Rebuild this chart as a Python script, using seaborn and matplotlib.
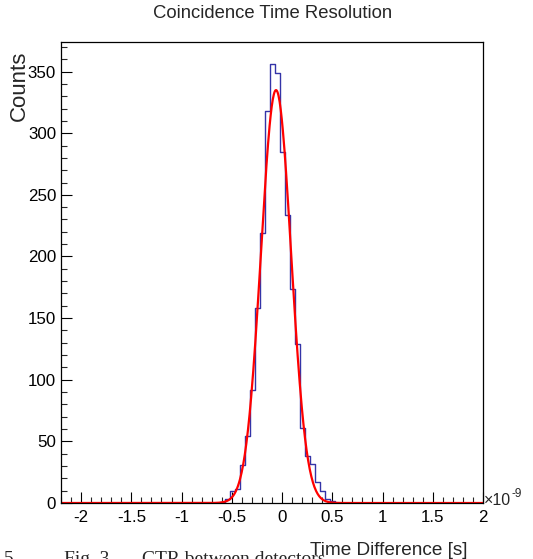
import numpy as np
import pandas as pd
import matplotlib
matplotlib.use("Agg")
import matplotlib.pyplot as plt
import seaborn as sns
from matplotlib.ticker import MultipleLocator, FuncFormatter

# histogram (time in units of 1e-9 s)
bin_width = 0.05
first_edge = -0.62
counts = [1, 3, 10, 11, 31, 54, 92, 158, 219, 318, 356, 349, 285,
          234, 174, 129, 61, 38, 32, 17, 10, 3, 2]

# gaussian fit parameters
fit_amp = 335.0
fit_mean = -0.06
fit_sigma = 0.15

x_range = (-2.2, 2.0)
y_max = 374
x_tick_values = [-2, -1.5, -1, -0.5, 0, 0.5, 1, 1.5, 2]
y_tick_values = [0, 50, 100, 150, 200, 250, 300, 350]

sns.set_theme(style="ticks")
plt.rcParams["font.family"] = ["Liberation Sans", "DejaVu Sans"]
plt.rcParams["axes.unicode_minus"] = False

centers = first_edge + bin_width * (np.arange(len(counts)) + 0.5)
hist_df = pd.DataFrame({"t": centers, "n": counts})

# bins spanning the whole axis so empty bins sit on the baseline
n_left = int(round((first_edge - x_range[0]) / bin_width)) + 1
start = first_edge - n_left * bin_width
edges = start + bin_width * np.arange(int((x_range[1] - start) / bin_width) + 2)

fig = plt.figure(figsize=(5.33, 5.59), dpi=100)
ax = fig.add_axes([61 / 533, 56 / 559, 422 / 533, 461 / 559])

sns.histplot(data=hist_df, x="t", weights="n", bins=[float(e) for e in edges],
             element="step", fill=False, color="#3434a8", linewidth=1.0, ax=ax)

t_fit = np.linspace(x_range[0], x_range[1], 800)
fit_df = pd.DataFrame({"t": t_fit,
                       "y": fit_amp * np.exp(-0.5 * ((t_fit - fit_mean) / fit_sigma) ** 2)})
sns.lineplot(data=fit_df, x="t", y="y", color="#ff0000", linewidth=1.6,
             estimator=None, ax=ax)


def tick_text(v, _):
    if abs(v) < 1e-9:
        return "0"
    return f"{v:g}"


ax.set_xlim(*x_range)
ax.set_ylim(0, y_max)
ax.set_xlabel("")
ax.set_ylabel("")
ax.set_xticks(x_tick_values)
ax.set_yticks(y_tick_values)
ax.xaxis.set_minor_locator(MultipleLocator(0.1))
ax.yaxis.set_minor_locator(MultipleLocator(10))
ax.xaxis.set_major_formatter(FuncFormatter(tick_text))
ax.tick_params(axis="both", which="major", direction="in", length=8, width=0.8,
               labelsize=12.2, colors="black")
ax.tick_params(axis="both", which="minor", direction="in", length=4.5, width=0.8)
ax.tick_params(axis="x", which="both", pad=5)
ax.tick_params(axis="y", which="both", pad=3.5)
for side in ax.spines.values():
    side.set_visible(True)
    side.set_color("black")
    side.set_linewidth(0.9)

fig.text(272.5 / 533, 1 - 13 / 559, "Coincidence Time Resolution",
         ha="center", va="center", fontsize=13.3)
fig.text(9 / 533, 1 - 51 / 559, "Counts", rotation=90,
         ha="left", va="top", fontsize=16)
fig.text(467 / 533, 4 / 559, "Time Difference [s]",
         ha="right", va="baseline", fontsize=13.7)
fig.text(484 / 533, (559 - 505) / 559, "×10",
         ha="left", va="baseline", fontsize=11.5)
fig.text(512 / 533, (559 - 497) / 559, "-9",
         ha="left", va="baseline", fontsize=8.5)

# caption of the paper, cut off by the crop
cap_y = -5 / 559
fig.text(4 / 533, cap_y, "5", ha="left", va="baseline", fontsize=14,
         family="Liberation Serif")
fig.text(64 / 533, cap_y, "Fig. 3", ha="left", va="baseline", fontsize=14,
         family="Liberation Serif")
fig.text(142 / 533, cap_y, "CTR between detectors", ha="left",
         va="baseline", fontsize=14, family="Liberation Serif")

fig.savefig("out.png", dpi=100)
